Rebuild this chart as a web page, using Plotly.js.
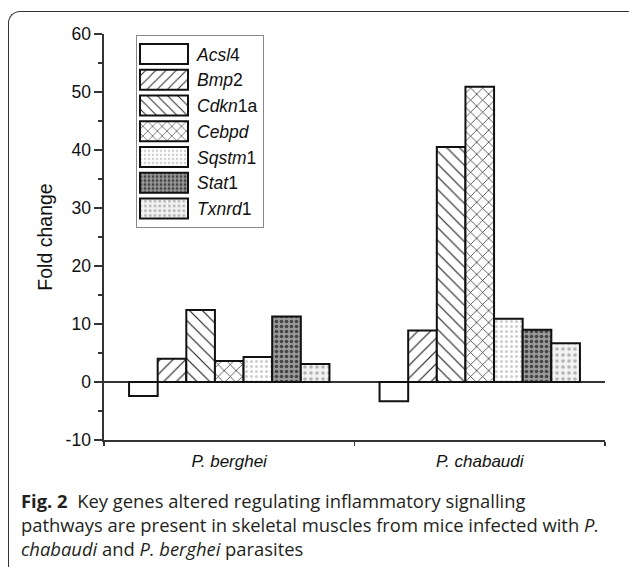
<!DOCTYPE html>
<html>
<head>
<meta charset="utf-8">
<script src="https://cdn.plot.ly/plotly-3.0.1.min.js"></script>
<style>
  html, body { margin: 0; padding: 0; background: #fff; }
  #wrap { position: relative; width: 629px; height: 567px; overflow: hidden; }
  #chart { width: 629px; height: 567px; }
  #frame { position: absolute; left: 8px; top: 11px; width: 640px; height: 600px;
           border-left: 1.6px solid #333; border-top: 1.6px solid #333;
           border-top-left-radius: 12px; pointer-events: none; }
</style>
</head>
<body>
<div id="wrap">
  <div id="chart"></div>
  <div id="frame"></div>
</div>
<script>
// ---- data ----
const groups = ['<i>P. berghei</i>', '<i>P. chabaudi</i>'];
const geneNames = ['<i>Acsl</i>4', '<i>Bmp</i>2', '<i>Cdkn</i>1a', '<i>Cebpd</i>', '<i>Sqstm</i>1', '<i>Stat</i>1', '<i>Txnrd</i>1'];
const acsl4  = [-2.4, -3.3];
const bmp2   = [4.0, 8.9];
const cdkn1a = [12.4, 40.5];
const cebpd  = [3.6, 50.9];
const sqstm1 = [4.3, 10.9];
const stat1  = [11.3, 9.0];
const txnrd1 = [3.1, 6.7];
const yTicks = [-10, 0, 10, 20, 30, 40, 50, 60];

// ---- styles ----
const seriesValues = [acsl4, bmp2, cdkn1a, cebpd, sqstm1, stat1, txnrd1];
const patterns = [
  {shape: '', bgcolor: '#ffffff'},
  {shape: '/', fgcolor: '#222', bgcolor: '#ffffff', size: 9, solidity: 0.13},
  {shape: '\\', fgcolor: '#222', bgcolor: '#ffffff', size: 9, solidity: 0.13},
  {shape: 'x', fgcolor: '#222', bgcolor: '#ffffff', size: 8.5, solidity: 0.16},
  {shape: '.', fgcolor: '#cfcfcf', bgcolor: '#ffffff', size: 5, solidity: 0.3},
  {shape: '.', fgcolor: '#444', bgcolor: '#9a9a9a', size: 5, solidity: 0.4},
  {shape: '.', fgcolor: '#b4b4b4', bgcolor: '#f2f2f2', size: 6, solidity: 0.28}
];

const traces = seriesValues.map((vals, i) => ({
  type: 'bar',
  name: geneNames[i],
  x: groups,
  y: vals,
  marker: {
    color: '#ffffff',
    line: {color: '#111', width: 2},
    pattern: Object.assign({fillmode: 'replace'}, patterns[i])
  },
  hoverinfo: 'skip'
}));

const W = 629, H = 567;
const L = 104, R = 605, T = 34, B = 440;
const px2x = p => (p - L) / (R - L);
const px2y = p => (B - p) / (B - T);

const captionFont = {family: '"Open Sans", "Noto Sans", sans-serif', size: 18.4, color: '#231f20'};
const annotations = [
  {text: '<b>Fig. 2</b>\u00a0\u00a0Key genes altered regulating inflammatory signalling', y: 500},
  {text: 'pathways are present in skeletal muscles from mice infected with <i>P.</i>', y: 524},
  {text: '<i>chabaudi</i> and <i>P. berghei</i> parasites', y: 548}
].map(a => ({
  text: a.text, xref: 'paper', yref: 'paper', x: px2x(19), y: px2y(a.y),
  xanchor: 'left', yanchor: 'middle', showarrow: false, font: captionFont, align: 'left'
}));

const layout = {
  width: W, height: H,
  margin: {l: L, r: W - R, t: T, b: H - B, pad: 0},
  paper_bgcolor: '#ffffff', plot_bgcolor: '#ffffff',
  font: {family: 'Arial, "Liberation Sans", sans-serif', size: 17, color: '#111'},
  barmode: 'group', bargap: 0.2, bargroupgap: 0,
  showlegend: true,
  legend: {
    x: px2x(136), y: px2y(35), xanchor: 'left', yanchor: 'top',
    bordercolor: '#888', borderwidth: 1, bgcolor: '#ffffff',
    font: {family: 'Arial, "Liberation Sans", sans-serif', size: 17.5, color: '#111'},
    itemwidth: 50, tracegroupgap: 0, traceorder: 'normal'
  },
  xaxis: {
    type: 'category', range: [-0.5, 1.5],
    showline: true, linecolor: '#333', linewidth: 1.6,
    ticks: 'outside', tickson: 'boundaries', ticklen: 4, tickwidth: 1.6, tickcolor: '#333',
    showgrid: false, zeroline: false,
    tickfont: {size: 17, color: '#111'}, ticklabelstandoff: 5
  },
  yaxis: {
    range: [-10, 60], tickvals: yTicks, ticktext: yTicks.map(String),
    showline: true, linecolor: '#333', linewidth: 1.6,
    ticks: 'outside', ticklen: 8, tickwidth: 1.6, tickcolor: '#333',
    minor: {dtick: 5, tick0: 0, ticks: 'outside', ticklen: 4, tickwidth: 1.6, tickcolor: '#333', showgrid: false},
    showgrid: false, zeroline: true, zerolinecolor: '#333', zerolinewidth: 1.6,
    tickfont: {size: 17.5, color: '#111'},
    title: {text: 'Fold change', font: {size: 19.5, color: '#111'}, standoff: 8}
  },
  annotations: annotations
};

function fixLegend() {
  document.querySelectorAll('.legend .traces .legendpoints path').forEach(p => {
    p.setAttribute('d', 'M21,10H-27V-10H21Z');
  });
}

Plotly.newPlot('chart', traces, layout, {staticPlot: true, displayModeBar: false}).then(fixLegend);
</script>
</body>
</html>
